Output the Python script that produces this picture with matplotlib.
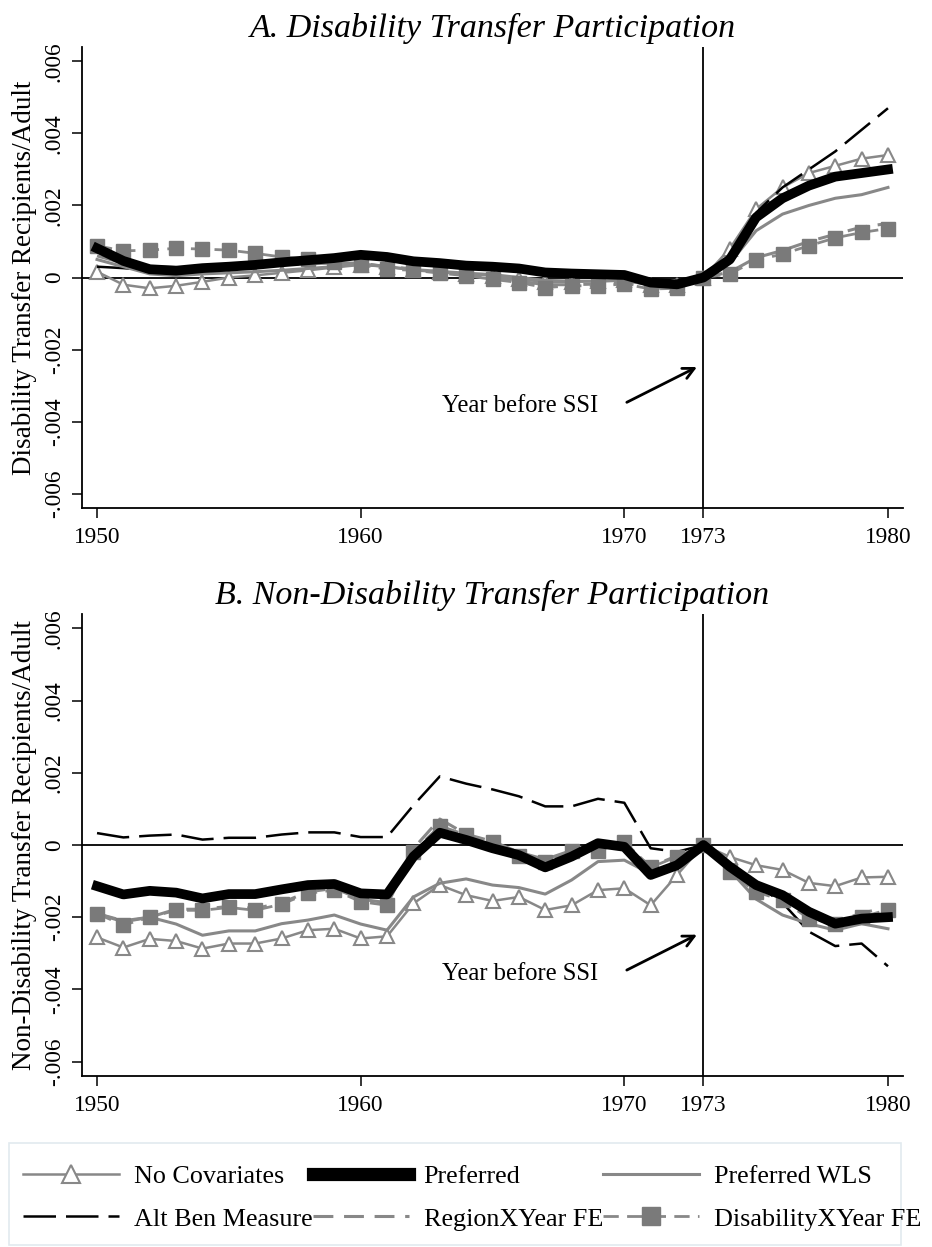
import matplotlib
matplotlib.use("Agg")
import matplotlib.pyplot as plt
from matplotlib.lines import Line2D
from matplotlib.patches import Rectangle

plt.rcParams['font.family'] = ['Liberation Serif', 'DejaVu Serif']

years = list(range(1950, 1981))
xticks = [1950, 1960, 1970, 1973, 1980]
yticks = [-0.006, -0.004, -0.002, 0, 0.002, 0.004, 0.006]
ytick_labels = ['-.006', '-.004', '-.002', '0', '.002', '.004', '.006']

# panel A: disability transfer participation
nocov_a = [0.00016, -0.0002, -0.0003, -0.00023, -0.00012, 0.0, 0.00006, 0.00013, 0.0002, 0.00028,
           0.00035, 0.0003, 0.0002, 0.00015, 0.0001, 0.00005, -0.00005, -0.00012, -0.00012, -0.0001,
           -0.00008, -0.00022, -0.0002, 0.0, 0.0008, 0.0019, 0.0025, 0.0029, 0.0031, 0.0033, 0.0034]
pref_a = [0.00081, 0.00046, 0.00023, 0.00019, 0.00026, 0.0003, 0.00035, 0.00042, 0.00048, 0.00054,
          0.00063, 0.00057, 0.00045, 0.0004, 0.00033, 0.0003, 0.00025, 0.00014, 0.00011, 0.00009,
          0.00007, -0.00014, -0.00019, 0.0, 0.0005, 0.00167, 0.0022, 0.00255, 0.0028, 0.0029, 0.003]
wls_a = [0.0005, 0.0003, 0.0001, 0.00005, 0.0001, 0.00013, 0.00016, 0.0002, 0.00025, 0.0003,
         0.00038, 0.0003, 0.00022, 0.00017, 0.00012, 0.00008, 0.0, -0.00008, -0.0001, -0.0001,
         -0.00008, -0.0002, -0.0002, 0.0, 0.0004, 0.0013, 0.00176, 0.002, 0.0022, 0.0023, 0.0025]
alt_a = [0.0003, 0.00026, 0.0002, 0.0002, 0.00025, 0.0003, 0.00034, 0.0004, 0.00046, 0.00052,
         0.0006, 0.00055, 0.00044, 0.0004, 0.00033, 0.0003, 0.00023, 0.00014, 0.00011, 0.00009,
         0.00007, -0.00014, -0.00019, 0.0, 0.0006, 0.0018, 0.0025, 0.003, 0.0035, 0.0041, 0.0047]
region_a = [0.0006, 0.0004, 0.0003, 0.00028, 0.0003, 0.00032, 0.00034, 0.00036, 0.00038, 0.0004,
            0.0004, 0.0003, 0.00024, 0.00015, 0.0001, 0.0, -0.0001, -0.0002, -0.0002, -0.00018,
            -0.00015, -0.0003, -0.00028, 0.0, 0.00015, 0.00055, 0.00075, 0.001, 0.0012, 0.0014, 0.0015]
disab_a = [0.00088, 0.00074, 0.00076, 0.00081, 0.00079, 0.00076, 0.00067, 0.00057, 0.00051, 0.00042,
           0.00035, 0.00023, 0.0002, 0.00012, 0.00005, -0.00005, -0.00014, -0.00028, -0.00023, -0.00023,
           -0.00018, -0.00032, -0.0003, 0.0, 0.0001, 0.00048, 0.00065, 0.00088, 0.0011, 0.00125, 0.00136]

# panel B: non-disability transfer participation
nocov_b = [-0.00256, -0.00284, -0.0026, -0.00266, -0.00287, -0.00273, -0.00273, -0.00259, -0.00236, -0.00232,
           -0.00259, -0.00253, -0.00162, -0.00111, -0.00139, -0.00155, -0.00144, -0.0018, -0.00167, -0.00125,
           -0.0012, -0.00167, -0.00083, 0.0, -0.00033, -0.00056, -0.00069, -0.00105, -0.00114, -0.0009, -0.00088]
pref_b = [-0.00114, -0.00137, -0.00127, -0.00132, -0.00148, -0.00136, -0.00136, -0.00123, -0.00111, -0.00108,
          -0.00134, -0.00137, -0.00032, 0.00034, 0.00014, -0.00009, -0.00028, -0.00062, -0.00032, 0.00005,
          -0.00005, -0.00083, -0.00056, 0.0, -0.0006, -0.00111, -0.00139, -0.00185, -0.00218, -0.00204, -0.002]
wls_b = [-0.0019, -0.00213, -0.002, -0.00219, -0.0025, -0.00238, -0.00238, -0.00218, -0.00208, -0.00194,
         -0.00219, -0.00236, -0.00144, -0.00106, -0.00094, -0.00111, -0.00118, -0.00136, -0.00097, -0.00046,
         -0.00042, -0.0008, -0.0006, 0.0, -0.0007, -0.0015, -0.00194, -0.00218, -0.00236, -0.00218, -0.00232]
alt_b = [0.00033, 0.00021, 0.00026, 0.00029, 0.00015, 0.0002, 0.0002, 0.00029, 0.00035, 0.00035,
         0.00022, 0.00022, 0.0011, 0.0019, 0.0017, 0.00154, 0.00135, 0.00107, 0.00107, 0.00128,
         0.00117, -0.00009, -0.00019, 0.0, -0.0006, -0.0011, -0.0016, -0.0024, -0.0028, -0.00273, -0.00336]
region_b = [-0.0019, -0.0021, -0.002, -0.00178, -0.00178, -0.0017, -0.00176, -0.0016, -0.0013, -0.0012,
            -0.0015, -0.0016, -0.0001, 0.00072, 0.0003, 0.0001, -0.0002, -0.0004, -0.00015, -0.0001,
            0.0, -0.0006, -0.0003, 0.0, -0.0006, -0.0011, -0.0014, -0.0019, -0.0021, -0.0019, -0.0017]
disab_b = [-0.0019, -0.00222, -0.002, -0.00181, -0.00181, -0.00173, -0.00181, -0.00164, -0.00134, -0.00125,
           -0.00157, -0.00167, -0.00019, 0.00053, 0.00028, 0.00009, -0.0003, -0.00046, -0.00016, -0.00016,
           0.00009, -0.00062, -0.00032, 0.0, -0.00074, -0.0013, -0.00153, -0.00204, -0.00218, -0.002, -0.00179]

gray = '#888888'
styles = {
    'No Covariates': dict(color=gray, lw=1.8, marker='^', ms=10.5, mfc='white', mec=gray, mew=1.5),
    'Preferred': dict(color='black', lw=7),
    'Preferred WLS': dict(color=gray, lw=2.2),
    'Alt Ben Measure': dict(color='black', lw=1.8, dashes=(13, 4)),
    'RegionXYear FE': dict(color=gray, lw=2.2, dashes=(6.5, 3.5)),
    'DisabilityXYear FE': dict(color=gray, lw=2.0, dashes=(5.5, 3), marker='s', ms=10.5, mfc='#7a7a7a', mec='#7a7a7a'),
}

fig = plt.figure(figsize=(9.32, 12.47), dpi=100)
ax_a = fig.add_axes([82/932, 1-508/1247, 821/932, 461/1247])
ax_b = fig.add_axes([82/932, 1-1076/1247, 821/932, 462/1247])

panels = [
    (ax_a, 'A. Disability Transfer Participation', 'Disability Transfer Recipients/Adult',
     [nocov_a, alt_a, wls_a, region_a, disab_a, pref_a]),
    (ax_b, 'B. Non-Disability Transfer Participation', 'Non-Disability Transfer Recipients/Adult',
     [nocov_b, alt_b, wls_b, region_b, disab_b, pref_b]),
]
order = ['No Covariates', 'Alt Ben Measure', 'Preferred WLS', 'RegionXYear FE', 'DisabilityXYear FE', 'Preferred']

for ax, title, ylab, series in panels:
    ax.axhline(0, color='black', lw=1.3, zorder=1)
    ax.axvline(1973, color='black', lw=1.3, zorder=1)
    for name, vals in zip(order, series):
        ax.plot(years, vals, zorder=3 if name == 'Preferred' else 2, **styles[name])
    ax.set_xlim(1949.43, 1980.57)
    ax.set_ylim(-0.0064, 0.0064)
    ax.set_xticks(xticks)
    ax.set_xticklabels([str(t) for t in xticks])
    ax.set_yticks(yticks)
    ax.set_yticklabels(ytick_labels, rotation=90, va='center')
    ax.tick_params(direction='out', length=7.5, width=1.1, labelsize=16.8)
    ax.tick_params(axis='x', pad=6)
    ax.tick_params(axis='y', pad=5)
    ax.spines['top'].set_visible(False)
    ax.spines['right'].set_visible(False)
    ax.spines['left'].set_linewidth(1.3)
    ax.spines['bottom'].set_linewidth(1.3)
    ax.set_ylabel(ylab, fontsize=19.5, labelpad=5)
    ax.set_title(title, fontsize=24.5, style='italic', pad=7.5)
    # annotation for the year before SSI
    ax.annotate('', xy=(1972.85, -0.00245), xytext=(1970.0, -0.0035),
                arrowprops=dict(arrowstyle='->', lw=2, color='black', mutation_scale=20))
    ax.text(1969.0, -0.00358, 'Year before SSI', fontsize=17.7, ha='right', va='center')

# legend box drawn separately (Stata style, text may run over the edge)
fig.patches.append(Rectangle((9/932, 0.002), 892/932, 102/1247, transform=fig.transFigure,
                             facecolor='white', edgecolor='#e2eaef', lw=1.2, zorder=0))
legend_order = ['No Covariates', 'Alt Ben Measure', 'Preferred', 'RegionXYear FE', 'Preferred WLS', 'DisabilityXYear FE']
handles = []
for n in legend_order:
    st = dict(styles[n])
    if n == 'Preferred':
        st['lw'] = 9.5
    if 'ms' in st:
        st['ms'] = 13
    handles.append(Line2D([], [], **st))
leg = fig.legend(handles, legend_order, ncol=3, loc='upper left',
                 bbox_to_anchor=(23/932, 1-1165/1247), fontsize=18.8,
                 handlelength=3.68, handletextpad=0.57, columnspacing=0.0,
                 borderaxespad=0, borderpad=0, labelspacing=0.73, frameon=False)

fig.savefig('out.png', dpi=100)
